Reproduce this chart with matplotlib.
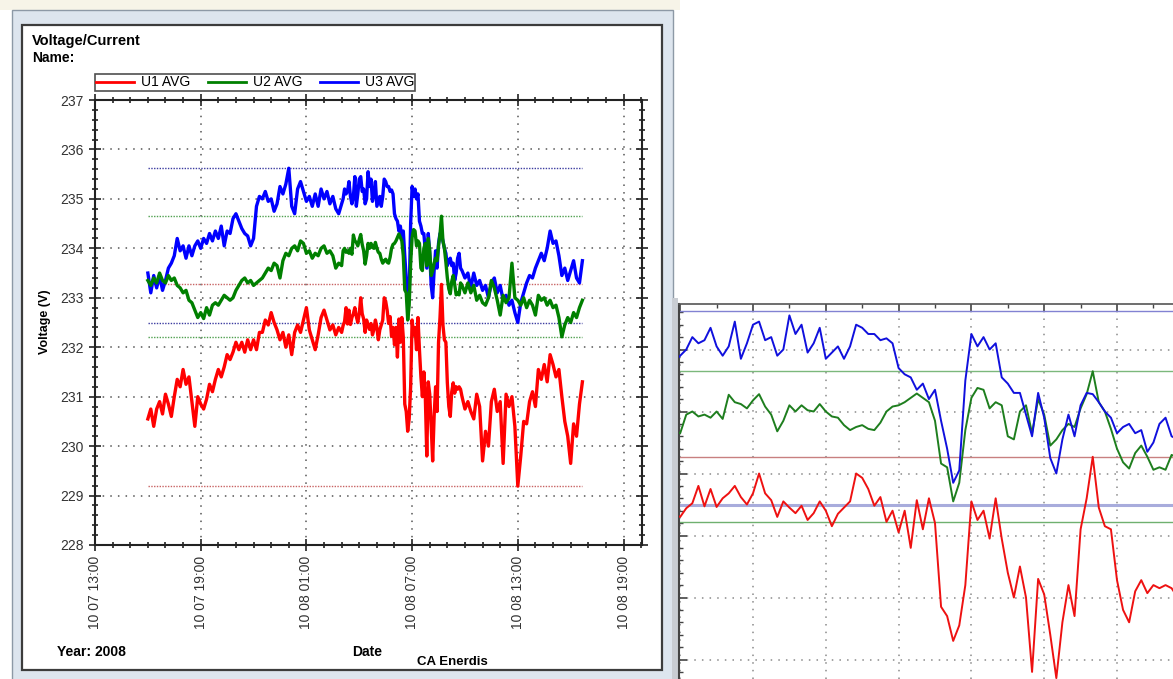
import numpy as np
import matplotlib
matplotlib.use("Agg")
import matplotlib.pyplot as plt
from matplotlib.patches import Rectangle
from matplotlib.lines import Line2D
from matplotlib.ticker import MultipleLocator, FixedLocator

plt.rcParams["font.family"] = ["Liberation Sans", "DejaVu Sans"]

# Time is kept as hours since 2008-10-07 00:00
# 10-minute averages, 10/07 16:00 .. 10/08 02:50
early_start, early_step = 16.0, 10
u1_early = [230.55, 230.75, 230.4, 230.75, 230.9, 230.65, 231.05, 230.85, 230.6, 231.0,
            231.35, 231.2, 231.55, 231.25, 231.4, 230.9, 230.4, 231.0, 230.85, 230.75,
            230.95, 231.25, 231.1, 231.35, 231.55, 231.4, 231.6, 231.85, 231.75, 231.9,
            232.1, 231.95, 232.1, 231.9, 232.15, 231.95, 232.15, 231.95, 232.3, 232.3,
            232.55, 232.45, 232.7, 232.5, 232.35, 232.15, 232.3, 232.0, 232.25, 231.85,
            232.3, 232.45, 232.3, 232.55, 232.8, 232.35, 232.15, 231.95, 232.25, 232.6,
            232.75, 232.55, 232.35, 232.45, 232.25, 232.4]
u2_early = [233.35, 233.25, 233.4, 233.3, 233.5, 233.35, 233.3, 233.45, 233.35, 233.4,
            233.25, 233.2, 233.1, 233.15, 232.95, 232.9, 232.75, 232.6, 232.7, 232.58,
            232.8, 232.65, 232.85, 232.9, 232.85, 232.95, 233.05, 233.0, 232.95, 233.0,
            233.15, 233.25, 233.35, 233.4, 233.3, 233.35, 233.25, 233.3, 233.35, 233.4,
            233.5, 233.6, 233.55, 233.7, 233.65, 233.4, 233.75, 233.9, 233.85, 234.0,
            234.05, 233.95, 234.15, 234.1, 233.9, 233.95, 233.8, 233.9, 233.85, 234.0,
            234.05, 233.9, 233.95, 233.85, 233.6, 233.7]
u3_early = [233.5, 233.1, 233.45, 233.2, 233.45, 233.15, 233.35, 233.6, 233.7, 233.85,
            234.2, 233.95, 234.05, 233.8, 234.05, 233.85, 234.05, 234.15, 234.0, 234.2,
            234.1, 234.3, 234.15, 234.35, 234.2, 234.45, 234.05, 234.35, 234.3, 234.6,
            234.7, 234.55, 234.4, 234.3, 234.25, 234.05, 234.2, 234.85, 235.05, 235.0,
            235.15, 234.95, 235.0, 234.75, 234.9, 235.25, 235.1, 235.3, 235.62, 234.85,
            234.7, 235.2, 235.35, 235.15, 234.95, 235.05, 234.85, 235.1, 234.85, 235.2,
            235.0, 235.15, 234.9, 235.05, 234.8, 234.7]

# 5-minute averages, 10/08 03:00 .. 09:45
detail_start, detail_step = 27.0, 5
u1_detail = [232.3, 232.44, 232.52, 232.8, 232.47, 232.75, 232.46, 232.6, 232.68, 232.8,
             232.62, 232.5, 232.68, 233.0, 232.68, 232.57, 232.3, 232.55, 232.45, 232.36,
             232.48, 232.25, 232.36, 232.55, 232.4, 232.15, 232.35, 232.45, 232.55, 233.0,
             232.93, 232.75, 232.48, 232.62, 232.22, 232.4, 232.05, 232.4, 231.8, 232.57,
             232.1, 232.6, 232.2, 230.85, 230.7, 230.3, 230.55, 231.2, 232.55, 232.25,
             232.4, 231.95, 232.6, 231.95, 231.4, 231.0, 231.5, 231.0, 229.8, 231.3,
             231.05, 230.4, 229.7, 230.6, 231.2, 230.7, 232.1, 232.6, 233.27, 232.45,
             232.15, 232.1, 231.28, 230.8, 230.6, 231.1, 231.28, 231.07, 231.2, 231.15,
             231.2, 231.15]
u2_detail = [233.65, 233.95, 234.0, 233.92, 233.95, 233.9, 234.0, 233.88, 234.27, 234.15,
             234.12, 234.05, 234.18, 234.28, 234.08, 233.95, 233.68, 233.85, 234.1, 234.0,
             234.1, 234.02, 234.0, 234.12, 234.0, 233.92, 233.9, 233.78, 233.7, 233.75,
             233.78, 233.72, 233.7, 233.82, 234.0, 234.08, 234.1, 234.15, 234.22, 234.29,
             234.22, 234.15, 233.85, 233.16, 233.1, 232.55, 232.85, 233.7, 234.22, 234.38,
             234.35, 234.05, 234.15, 234.1, 233.6, 233.55, 234.0, 234.1, 233.65, 234.2,
             233.95, 233.45, 233.55, 233.7, 233.8, 233.75, 234.05, 234.28, 234.65, 234.15,
             234.0, 233.72, 233.4, 233.18, 233.08, 233.33, 233.45, 233.27, 233.06, 233.1,
             233.06, 233.3]
u3_detail = [234.9, 235.0, 235.2, 235.1, 235.15, 235.35, 235.05, 234.9, 235.05, 235.45,
             234.85, 235.1, 235.4, 235.45, 235.15, 235.2, 234.9, 235.0, 235.55, 235.25,
             235.4, 234.95, 235.1, 235.35, 234.85, 234.95, 235.05, 234.85, 235.05, 235.4,
             235.35, 235.25, 235.25, 235.15, 235.18, 235.1, 234.7, 234.6, 234.55, 234.35,
             234.45, 234.2, 234.35, 233.85, 233.4, 232.85, 233.05, 234.5, 235.25, 235.05,
             235.2, 235.0, 235.1, 234.55, 234.45, 234.3, 234.3, 233.95, 233.6, 234.3,
             233.9, 233.25, 233.0, 233.55, 233.95, 233.6, 234.1, 234.3, 234.28, 234.15,
             234.0, 233.9, 233.65, 233.75, 233.8, 233.65, 233.7, 233.35, 233.5, 233.8,
             233.9, 233.6]

# 10-minute averages, 10/08 09:50 .. 16:40
late_start, late_step = 33 + 50 / 60, 10
u1_late = [231.0, 230.75, 230.9, 230.7, 230.55, 231.05, 230.8, 229.7, 230.3, 230.0,
           230.9, 231.15, 230.7, 230.9, 229.65, 231.05, 230.8, 231.0, 230.4, 229.19,
           229.8, 230.5, 230.45, 230.9, 231.1, 230.8, 231.55, 231.35, 231.65, 231.3,
           231.85, 231.65, 231.4, 231.55, 231.0, 230.5, 230.2, 229.65, 230.45, 230.2,
           230.85, 231.3]
u2_late = [233.25, 233.1, 233.3, 233.1, 233.25, 232.95, 233.05, 232.9, 232.85, 233.0,
           233.35, 233.2, 232.95, 232.65, 233.05, 232.9, 233.0, 233.7, 233.0, 232.95,
           232.85, 233.0, 232.8, 232.95, 232.85, 232.65, 233.05, 232.95, 233.0, 232.85,
           232.95, 232.8, 232.85, 232.6, 232.21, 232.45, 232.6, 232.5, 232.7, 232.6,
           232.8, 232.95]
u3_late = [233.55, 233.4, 233.5, 233.2, 233.5, 233.25, 233.35, 233.15, 233.25, 233.0,
           233.3, 233.4, 233.1, 233.25, 232.95, 233.05, 232.85, 232.95, 232.7, 232.5,
           232.9, 233.1, 233.3, 233.45, 233.4, 233.6, 233.75, 233.9, 233.75, 234.0,
           234.35, 234.1, 234.15, 233.85, 233.45, 233.6, 233.35, 233.55, 233.75, 233.4,
           233.3, 233.75]

series_names = ["U1 AVG", "U2 AVG", "U3 AVG"]
series_colors = ["#ff0000", "#008000", "#0000ff"]
limit_colors = ["#c86464", "#50a050", "#3c3ca0"]
zoom_limit_colors = ["#c88080", "#7cb87c", "#8282d2"]

tick_hours = [13, 19, 25, 31, 37, 43]
tick_labels = ["10 07 13:00", "10 07 19:00", "10 08 01:00",
               "10 08 07:00", "10 08 13:00", "10 08 19:00"]

W, H = 1173, 679


def hours(start, step_min, n):
    return start + np.arange(n) * step_min / 60.0


def fig_box(x0, y0, x1, y1):
    """Pixel box (top-left origin) -> figure fraction rect."""
    return [x0 / W, 1 - y1 / H, (x1 - x0) / W, (y1 - y0) / H]


t = np.concatenate([hours(early_start, early_step, len(u1_early)),
                    hours(detail_start, detail_step, len(u1_detail)),
                    hours(late_start, late_step, len(u1_late))])
series = [np.concatenate([u1_early, u1_detail, u1_late]),
          np.concatenate([u2_early, u2_detail, u2_late]),
          np.concatenate([u3_early, u3_detail, u3_late])]

fig = plt.figure(figsize=(W / 100, H / 100), dpi=100)
fig.patch.set_facecolor("white")

# window chrome drawn in pixel space
bg = fig.add_axes([0, 0, 1, 1], zorder=0)
bg.set_xlim(0, W)
bg.set_ylim(H, 0)
bg.axis("off")
bg.add_patch(Rectangle((0, 0), 680, 10, facecolor="#f7f4e8", edgecolor="none"))
bg.add_patch(Rectangle((12, 10), 661, 680, facecolor="#dde5ee", edgecolor="#8d99a6", lw=1))
bg.add_patch(Rectangle((22, 25), 640, 645, facecolor="white", edgecolor="#3c3c3c", lw=1.6))
bg.add_patch(Rectangle((672, 298), 6, 390, facecolor="#c9cdd3", edgecolor="none"))

bg.text(32, 41, "Voltage/Current", fontsize=10.5, fontweight="bold", va="center", ha="left")
bg.text(32, 58, "Name:", fontsize=10, fontweight="bold", va="center", ha="left")
bg.text(45, 322, "Voltage (V)", fontsize=9, fontweight="bold", rotation=90, va="center", ha="center")
bg.text(367, 652, "Date", fontsize=10, fontweight="bold", va="center", ha="center")
bg.text(57, 652, "Year: 2008", fontsize=10, fontweight="bold", va="center", ha="left")
bg.text(452, 662, "CA Enerdis", fontsize=9.5, fontweight="bold", va="center", ha="center")

# ---- main chart ----
ax = fig.add_axes(fig_box(95, 100, 642, 545), zorder=2)
ax.set_facecolor("none")
ax.set_xlim(13, 13 + (642 - 95) / 17.617)
ax.set_ylim(228, 237)

t0, t1 = t[0], t[-1]
for vals, c in zip(series, limit_colors):
    ax.hlines([vals.max(), vals.min()], t0, t1, colors=c, lw=1, linestyles=(0, (1, 1)), zorder=2)

for vals, c, z in zip(series, series_colors, [3, 4, 3.5]):
    ax.plot(t, vals, color=c, lw=2.4, zorder=z)

ax.xaxis.set_major_locator(FixedLocator(tick_hours))
ax.set_xticklabels(tick_labels, rotation=90, fontsize=10, color="#333333")
ax.xaxis.set_minor_locator(MultipleLocator(1))
ax.yaxis.set_major_locator(MultipleLocator(1))
ax.yaxis.set_minor_locator(MultipleLocator(0.2))
ax.tick_params(axis="y", labelsize=10, labelcolor="#333333")
ax.tick_params(which="both", direction="inout", top=True, right=True, color="#222222")
ax.tick_params(which="major", length=9, width=1.2)
ax.tick_params(which="minor", length=5, width=1.2)
ax.grid(which="major", color="#555555", ls=(0, (1, 4)), lw=1.1)
for sp in ax.spines.values():
    sp.set_color("#222222")
    sp.set_linewidth(1.5)

handles = [Line2D([], [], color=c, lw=2) for c in series_colors]
leg = fig.legend(handles, series_names, loc="upper left",
                 bbox_to_anchor=(95 / W, 1 - 74 / H), ncol=3, fontsize=10,
                 frameon=True, fancybox=False, edgecolor="#222222",
                 handlelength=2.7, handletextpad=0.5, columnspacing=1.3,
                 borderpad=0.1, borderaxespad=0)
leg.get_frame().set_linewidth(1.2)

# ---- zoomed detail ----
ax2 = fig.add_axes(fig_box(679, 304, 1173, 679), zorder=2)
ax2.set_xlim(28 + (679 - 753) / 72.8, 28 + (1173 - 753) / 72.8)
ax2.set_ylim(235 - (679 - 349.5) / 62, 235 + (349.5 - 304) / 62)

for vals, c in zip(series, zoom_limit_colors):
    ax2.axhline(vals.max(), color=c, lw=1, zorder=2)
ax2.axhline(series[2].min(), color="#a8acdc", lw=2.2, zorder=2)
ax2.axhline(series[1].min(), color="#6fb06f", lw=1, zorder=2)

for vals, c in zip(series, ["#ee1111", "#1e7e1e", "#1010dd"]):
    ax2.plot(t, vals, color=c, lw=1.4, zorder=3)

ax2.xaxis.set_major_locator(MultipleLocator(1))
ax2.xaxis.set_minor_locator(MultipleLocator(0.5))
ax2.yaxis.set_major_locator(MultipleLocator(1))
ax2.yaxis.set_minor_locator(MultipleLocator(0.2))
ax2.tick_params(which="both", direction="in", left=True, top=True, bottom=False, right=False,
                labelleft=False, labelbottom=False, labeltop=False, color="#444444")
ax2.tick_params(which="major", length=6, width=1.2)
ax2.tick_params(which="minor", length=3, width=1)
ax2.grid(which="major", color="#8a8a8a", ls=(0, (1, 4)), lw=1.1)
ax2.spines["right"].set_visible(False)
ax2.spines["bottom"].set_visible(False)
ax2.spines["left"].set_color("#444444")
ax2.spines["left"].set_linewidth(1.5)
ax2.spines["top"].set_color("#555555")
ax2.spines["top"].set_linewidth(1.2)

fig.savefig("out.png", dpi=100)
